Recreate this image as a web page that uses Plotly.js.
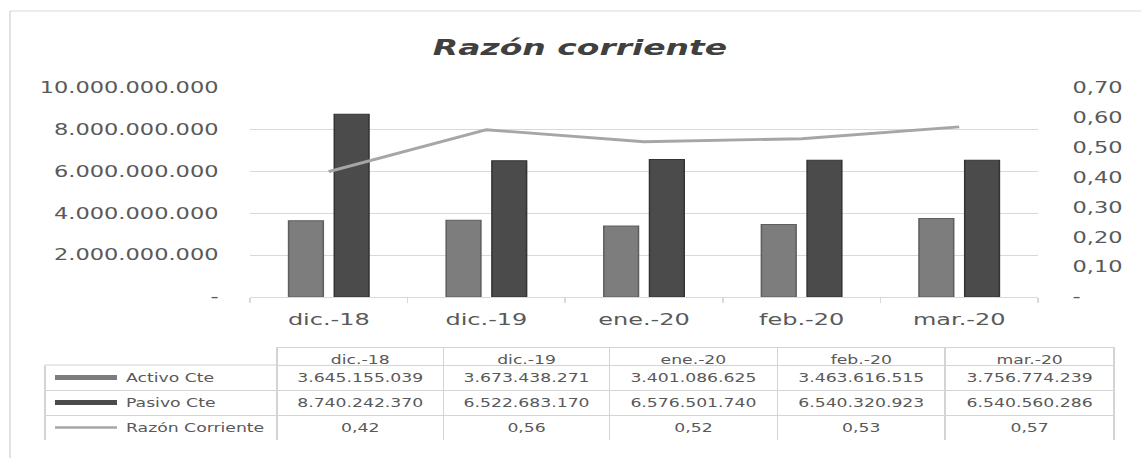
<!DOCTYPE html>
<html>
<head>
<meta charset="utf-8">
<script src="https://cdn.plot.ly/plotly-3.0.1.min.js"></script>
<style>
  html, body { margin: 0; padding: 0; background: #fff; overflow: hidden; }
  #wrap { width: 1141px; height: 458px; overflow: hidden; }
  #chart { width: 761px; height: 458px; transform: scaleX(1.49934); transform-origin: 0 0; }
</style>
</head>
<body>
<div id="wrap"><div id="chart"></div></div>
<script>
// ---- data ----
const categories = ['dic.-18', 'dic.-19', 'ene.-20', 'feb.-20', 'mar.-20'];
const activoCte = [3645155039, 3673438271, 3401086625, 3463616515, 3756774239];
const pasivoCte = [8740242370, 6522683170, 6576501740, 6540320923, 6540560286];
const razonCorriente = [0.42, 0.56, 0.52, 0.53, 0.57];
const seriesNames = ['Activo Cte', 'Pasivo Cte', 'Razón Corriente'];
const leftTickVals = [0, 2000000000, 4000000000, 6000000000, 8000000000, 10000000000];
const rightTickVals = [0, 0.1, 0.2, 0.3, 0.4, 0.5, 0.6, 0.7];

// ---- formatting helpers ----
const fmtInt = v => v === 0 ? '-' : String(Math.round(v)).replace(/\B(?=(\d{3})+(?!\d))/g, '.');
const fmtDec = v => v === 0 ? '-' : v.toFixed(2).replace('.', ',');

const COL_ACT = '#7d7d7d';
const COL_PAS = '#4b4b4b';
const COL_LINE = '#a6a6a6';
const GRID = '#d9d9d9';
const TBL = '#d4d4d4';
const TXT = '#595959';
const FONT = 'DejaVu Sans, Verdana, sans-serif';
const W = 1141, H = 458;
const px = x => x / W;          // reference x (px) -> paper fraction
const py = y => (H - y) / H;    // reference y (px) -> paper fraction

const traces = [
  {
    type: 'bar', name: seriesNames[0], x: categories, y: activoCte,
    marker: { color: COL_ACT, line: { color: '#5e5e5e', width: 1 } },
    xaxis: 'x', yaxis: 'y', hoverinfo: 'skip'
  },
  {
    type: 'bar', name: seriesNames[1], x: categories, y: pasivoCte,
    marker: { color: COL_PAS, line: { color: '#333333', width: 1 } },
    xaxis: 'x', yaxis: 'y', hoverinfo: 'skip'
  },
  {
    type: 'scatter', mode: 'lines', name: seriesNames[2], x: categories, y: razonCorriente,
    line: { color: COL_LINE, width: 2.8 }, xaxis: 'x', yaxis: 'y2', hoverinfo: 'skip'
  },
  {
    type: 'table',
    domain: { x: [px(45), px(1115)], y: [py(440), py(347)] },
    columnwidth: [232, 167, 166, 168, 168, 169],
    header: {
      values: [''].concat(categories),
      height: 18,
      align: 'center',
      fill: { color: '#ffffff' },
      line: { color: ['#ffffff'].concat(categories.map(() => TBL)), width: 1 },
      font: { family: FONT, size: 11.5, color: TXT }
    },
    cells: {
      values: [['', '', '']].concat(categories.map((c, i) => [
        fmtInt(activoCte[i]), fmtInt(pasivoCte[i]), fmtDec(razonCorriente[i])
      ])),
      height: 25,
      align: 'center',
      fill: { color: '#ffffff' },
      line: { color: TBL, width: 1 },
      font: { family: FONT, size: 11.5, color: TXT }
    }
  }
];

const rowY = [377.5, 402.5, 427.5];
const annotations = seriesNames.map((n, i) => ({
  text: n, xref: 'paper', yref: 'paper', x: px(123), y: py(rowY[i]),
  xanchor: 'left', yanchor: 'middle', showarrow: false,
  font: { family: FONT, size: 11.5, color: TXT }
}));

const shapes = [
  // chart frame
  { type: 'line', xref: 'paper', yref: 'paper', x0: px(10), x1: px(10), y0: py(11), y1: -0.05, line: { color: GRID, width: 1 } },
  { type: 'line', xref: 'paper', yref: 'paper', x0: px(10), x1: 1.05, y0: py(11), y1: py(11), line: { color: GRID, width: 1 } },
  // top and left edge of the label column of the data table
  { type: 'line', xref: 'paper', yref: 'paper', x0: px(45), x1: px(277), y0: py(365), y1: py(365), line: { color: TBL, width: 1 } },
  { type: 'line', xref: 'paper', yref: 'paper', x0: px(45), x1: px(45), y0: py(365), y1: py(440), line: { color: TBL, width: 1 } },
  // legend keys in the data table
  { type: 'rect', xref: 'paper', yref: 'paper', x0: px(55), x1: px(117), y0: py(380), y1: py(375), fillcolor: COL_ACT, line: { width: 0 } },
  { type: 'rect', xref: 'paper', yref: 'paper', x0: px(55), x1: px(117), y0: py(405), y1: py(400), fillcolor: COL_PAS, line: { width: 0 } },
  { type: 'line', xref: 'paper', yref: 'paper', x0: px(55), x1: px(117), y0: py(427.5), y1: py(427.5), line: { color: COL_LINE, width: 2.6 } }
];

const layout = {
  width: 761, height: 458,
  margin: { l: 0, r: 0, t: 0, b: 0 },
  paper_bgcolor: '#ffffff', plot_bgcolor: '#ffffff',
  showlegend: false,
  barmode: 'group', bargap: 0.42, bargroupgap: 0.24,
  title: {
    text: 'Razón corriente', xref: 'paper', x: px(580), xanchor: 'center',
    yref: 'container', y: py(47), yanchor: 'middle',
    font: { family: FONT, size: 22, weight: 'bold', style: 'italic', color: '#404040' }
  },
  xaxis: {
    domain: [px(250), px(1038)],
    anchor: 'y',
    showgrid: false, zeroline: false,
    showline: false,
    ticks: 'outside', tickson: 'boundaries', ticklen: 5, tickcolor: GRID,
    tickfont: { family: FONT, size: 16, color: TXT },
    ticklabelstandoff: 11,
    fixedrange: true
  },
  yaxis: {
    domain: [py(297), py(88)],
    range: [0, 10000000000],
    tickvals: leftTickVals, ticktext: leftTickVals.map(fmtInt),
    showgrid: true, gridcolor: GRID, gridwidth: 1,
    zeroline: true, zerolinecolor: GRID, zerolinewidth: 1,
    showline: false, ticks: '',
    ticklabelstandoff: 20,
    tickfont: { family: FONT, size: 15, color: TXT },
    fixedrange: true
  },
  yaxis2: {
    overlaying: 'y', side: 'right', anchor: 'x',
    range: [0, 0.7],
    tickvals: rightTickVals, ticktext: rightTickVals.map(fmtDec),
    showgrid: false, zeroline: false, showline: false, ticks: '',
    ticklabelstandoff: 22,
    tickfont: { family: FONT, size: 15, color: TXT },
    fixedrange: true
  },
  annotations: annotations,
  shapes: shapes
};

Plotly.newPlot('chart', traces, layout, { displayModeBar: false, staticPlot: true });
</script>
</body>
</html>
